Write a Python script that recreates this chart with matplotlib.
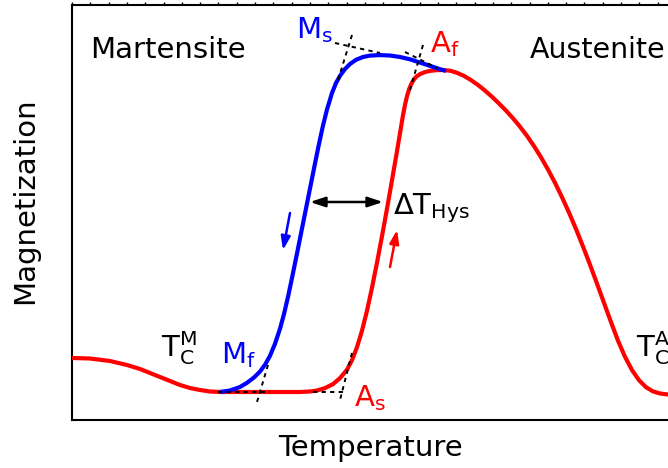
import matplotlib
matplotlib.use("Agg")
import matplotlib.pyplot as plt
from matplotlib.ticker import MultipleLocator

# Heating curve (red): temperature, magnetization (arbitrary units)
red_T = [0, 18, 38, 55, 68, 78, 88, 98, 108, 118, 128, 138, 148, 168, 188, 208,
         228, 238, 245, 253, 261, 268, 275, 280, 285, 290, 295, 300, 305, 310,
         315, 320, 325, 328, 331, 333, 335, 337, 339, 341, 344, 348, 353, 358,
         364, 371, 378, 385, 392, 399, 406, 413, 420, 427, 434, 441, 448, 455,
         462, 469, 476, 483, 490, 497, 504, 511, 518, 525, 532, 539, 546, 553,
         560, 567, 574, 581, 588, 595, 618]
red_M = [62, 61.5, 59, 55, 51, 47, 43, 39, 35, 32, 30, 28.5, 28, 28, 28, 28,
         28, 28.5, 29.5, 31.9, 35.9, 41.9, 50.3, 59.8, 72.8, 89.3, 109.3, 132.3, 157.3, 183.8,
         211.3, 239.8, 268.8, 286.8, 304.8, 315.2, 323.8, 330.4, 335.4, 339.2, 343.1, 345.9, 347.9, 349.1,
         349.8, 350, 349.3, 347.2, 344.1, 339.9, 335, 329.4, 323.2, 316.5, 309.4, 301.7, 293.3, 284.1,
         273.9, 262.7, 250.5, 237.2, 222.8, 207.4, 191, 173.5, 155.3, 136.4, 117.1, 97.9, 79.3, 63.2,
         49.9, 39.8, 32.8, 28.6, 26.5, 25.6, 24.9]

# Cooling curve (blue)
blue_T = [148, 158, 168, 175, 182, 188, 193, 198, 203, 208, 212, 216, 220, 225,
          230, 235, 239, 243, 247, 251, 255, 260, 264, 268, 273, 278, 284, 291,
          298, 308, 318, 328, 338, 345, 353, 361, 368, 374]
blue_M = [28, 29.5, 33, 37.2, 42.5, 48.5, 55.2, 64.2, 76.2, 91.2, 106, 123.2, 142, 166.5,
          191.5, 216.5, 236.5, 256.5, 276.1, 294.5, 310.5, 327, 337, 344.2, 351, 356, 360.2, 363,
          364.4, 364.9, 364.5, 363, 360.7, 358.4, 355.8, 353.1, 350.8, 349]

# Tangent construction lines (start/end of each dotted segment)
tangent_T = [[263, 308], [280, 266], [333, 365], [351, 338],
             [146, 198], [196, 185], [241, 275], [280, 268]]
tangent_M = [[377, 367], [385, 340], [368, 352], [375, 330],
             [28, 28], [55, 18], [28, 28], [67, 20]]

fig = plt.figure(figsize=(6.68, 4.68), dpi=100)
ax = fig.add_axes([72 / 668, 48 / 468, 618 / 668, 415 / 468])
ax.set_xlim(0, 618)
ax.set_ylim(0, 415)

ax.plot(red_T, red_M, color="#ff0000", lw=3, solid_capstyle="butt",
        solid_joinstyle="round", zorder=3)
ax.plot(blue_T, blue_M, color="#0000ff", lw=3, solid_capstyle="butt",
        solid_joinstyle="round", zorder=4)

for tx, ty in zip(tangent_T, tangent_M):
    ax.plot(tx, ty, color="black", lw=1.4, ls=(0, (2.2, 2.2)), zorder=5)

# Hysteresis double arrow
ax.annotate("", xy=(311, 218), xytext=(238, 218),
            arrowprops=dict(arrowstyle="<|-|>,head_length=0.9,head_width=0.3",
                            color="black", lw=1.8, shrinkA=0, shrinkB=0))
# direction arrows
ax.annotate("", xy=(211, 170), xytext=(218, 207),
            arrowprops=dict(arrowstyle="-|>,head_length=0.8,head_width=0.28",
                            color="#0000ff", lw=1.8, shrinkA=0, shrinkB=0))
ax.annotate("", xy=(325, 190), xytext=(318, 153),
            arrowprops=dict(arrowstyle="-|>,head_length=0.8,head_width=0.28",
                            color="#ff0000", lw=1.8, shrinkA=0, shrinkB=0))

ax.spines["right"].set_visible(False)
for s in ["left", "bottom", "top"]:
    ax.spines[s].set_linewidth(1.5)
ax.tick_params(axis="both", which="both", left=False, bottom=False,
               labelleft=False, labelbottom=False)
ax.xaxis.set_major_locator(MultipleLocator(18.3))
ax.tick_params(axis="x", which="major", top=True, direction="out", length=2,
               width=1, labeltop=False)

fs = 21
ax.text(90 - 72, 420 - 50, "Martensite", fontsize=fs, va="center", ha="left")
ax.text(530 - 72, 420 - 50, "Austenite", fontsize=20.5, va="center", ha="left")
fig.text(25 / 668, 1 - 201 / 468, "Magnetization", rotation=90, fontsize=fs,
         ha="center", va="center")
fig.text(370 / 668, 1 - 448 / 468, "Temperature", fontsize=fs,
         ha="center", va="center")

def lab(x, y, s, color):
    ax.text(x - 72, 420 - y, s, fontsize=fs, color=color, ha="left", va="center")

lab(296, 30, r"$\mathregular{M_s}$", "#0000ff")
lab(430, 44, r"$\mathregular{A_f}$", "#ff0000")
lab(393, 208, r"$\mathregular{\Delta T_{Hys}}$", "black")
lab(161, 348, r"$\mathregular{T_C^M}$", "black")
lab(221, 355, r"$\mathregular{M_f}$", "#0000ff")
lab(354, 398, r"$\mathregular{A_s}$", "#ff0000")
lab(636, 348, r"$\mathregular{T_C^A}$", "black")

fig.savefig("out.png", dpi=100)
